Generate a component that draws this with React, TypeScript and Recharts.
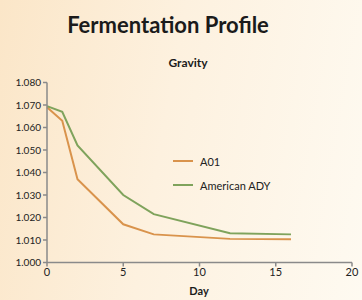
import React from 'react';
import { LineChart, Line, XAxis, YAxis } from 'recharts';

const days = [0, 1, 2, 5, 7, 12, 16];
const a01 = [1.069, 1.063, 1.037, 1.017, 1.0125, 1.0105, 1.0103];
const americanAdy = [1.0695, 1.067, 1.052, 1.030, 1.0215, 1.013, 1.0125];
const yTicks = [1.0, 1.01, 1.02, 1.03, 1.04, 1.05, 1.06, 1.07, 1.08];
const xTicks = [0, 5, 10, 15, 20];
const seriesNames = ['A01', 'American ADY'];
const seriesColors = ['#d9934c', '#7fa35c'];

const data = days.map((d, i) => ({ day: d, A01: a01[i], 'American ADY': americanAdy[i] }));

const FONT = 'Lato, "Open Sans", sans-serif';

export default function App() {
  return (
    <div
      style={{
        position: 'fixed',
        left: 0,
        top: 0,
        width: 362,
        height: 300,
        background: 'linear-gradient(100deg, #fbe6c8 0%, #fdf1df 45%, #fefaf1 100%)',
        fontFamily: FONT,
        overflow: 'hidden',
      }}
    >
      <LineChart width={362} height={300} data={data} margin={{ top: 82.5, right: 10, bottom: 7.5, left: 7 }}>
        <XAxis
          dataKey="day"
          type="number"
          domain={[0, 20]}
          ticks={xTicks}
          height={30}
          stroke="#8a8a8a"
          strokeWidth={1.5}
          tickSize={4}
          tick={{ fill: '#222', fontSize: 11, fontFamily: FONT }}
        />
        <YAxis
          type="number"
          domain={[1.0, 1.08]}
          ticks={yTicks}
          width={40}
          stroke="#8a8a8a"
          strokeWidth={1.5}
          tickSize={4}
          tickFormatter={(v: number) => v.toFixed(3)}
          tick={{ fill: '#222', fontSize: 10, fontFamily: FONT }}
        />
        {seriesNames.map((n, i) => (
          <Line key={n} dataKey={n} stroke={seriesColors[i]} strokeWidth={2} dot={false} isAnimationActive={false} />
        ))}
      </LineChart>
      <div style={{ position: 'absolute', left: 0, width: 336, top: 11, textAlign: 'center', fontSize: 22, fontWeight: 700, color: '#1b1b1b', whiteSpace: 'nowrap' }}>
        Fermentation Profile
      </div>
      <div style={{ position: 'absolute', left: 0, width: 376, top: 55, textAlign: 'center', fontSize: 12, fontWeight: 700, color: '#1b1b1b', whiteSpace: 'nowrap' }}>
        Gravity
      </div>
      <div style={{ position: 'absolute', left: 0, width: 398, top: 284, textAlign: 'center', fontSize: 11, fontWeight: 700, color: '#1b1b1b', whiteSpace: 'nowrap' }}>
        Day
      </div>
      <div style={{ position: 'absolute', left: 173, top: 149, fontSize: 11, color: '#222', whiteSpace: 'nowrap' }}>
        {seriesNames.map((n, i) => (
          <div key={n} style={{ display: 'flex', alignItems: 'center', height: 24 }}>
            <div style={{ width: 20, height: 2, background: seriesColors[i], marginRight: 7 }} />
            <span>{n}</span>
          </div>
        ))}
      </div>
    </div>
  );
}
